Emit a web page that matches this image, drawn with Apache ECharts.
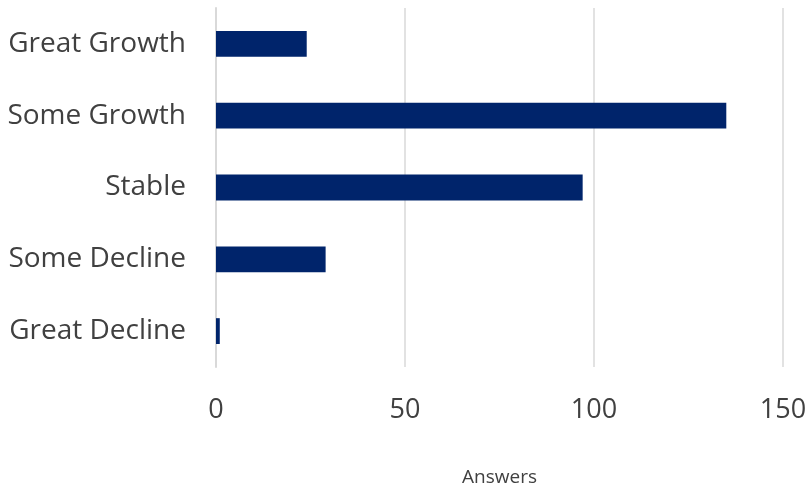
<!DOCTYPE html>
<html>
<head>
<meta charset="utf-8">
<script src="https://cdn.jsdelivr.net/npm/echarts@6/dist/echarts.min.js"></script>
<style>
  html, body { margin: 0; padding: 0; background: #ffffff; }
  #chart { width: 811px; height: 485px; }
</style>
</head>
<body>
<div id="chart"></div>
<script>
// Survey outlook categories, listed bottom to top as drawn on the category axis
const categories = ['Great Decline', 'Some Decline', 'Stable', 'Some Growth', 'Great Growth'];
const answers = [1, 29, 97, 135, 24];
const axisTicks = { min: 0, max: 150, interval: 50 };
const axisTitle = 'Answers';

const chart = echarts.init(document.getElementById('chart'), null, { renderer: 'canvas' });

chart.setOption({
  animation: false,
  backgroundColor: '#ffffff',
  textStyle: { fontFamily: 'Open Sans' },
  grid: {
    left: 216, right: 28, top: 8, bottom: 118,
    containLabel: false,
    outerBoundsMode: 'none'
  },
  xAxis: {
    type: 'value',
    min: axisTicks.min,
    max: axisTicks.max,
    interval: axisTicks.interval,
    name: axisTitle,
    nameLocation: 'middle',
    nameGap: 101,
    nameTextStyle: { color: '#404040', fontSize: 19, fontFamily: 'Open Sans' },
    axisLine: { show: false },
    axisTick: { show: false },
    axisLabel: { color: '#404040', fontSize: 27, margin: 30, fontFamily: 'Open Sans' },
    splitLine: { show: true, lineStyle: { color: '#d9d9d9', width: 1.5 } }
  },
  yAxis: {
    type: 'category',
    data: categories,
    axisLine: { show: true, lineStyle: { color: '#d9d9d9', width: 2 } },
    axisTick: { show: false },
    axisLabel: { color: '#404040', fontSize: 28, margin: 30, fontFamily: 'Open Sans' }
  },
  series: [{
    type: 'bar',
    data: answers,
    barCategoryGap: '64%',
    itemStyle: { color: '#00246b' }
  }]
});
</script>
</body>
</html>
